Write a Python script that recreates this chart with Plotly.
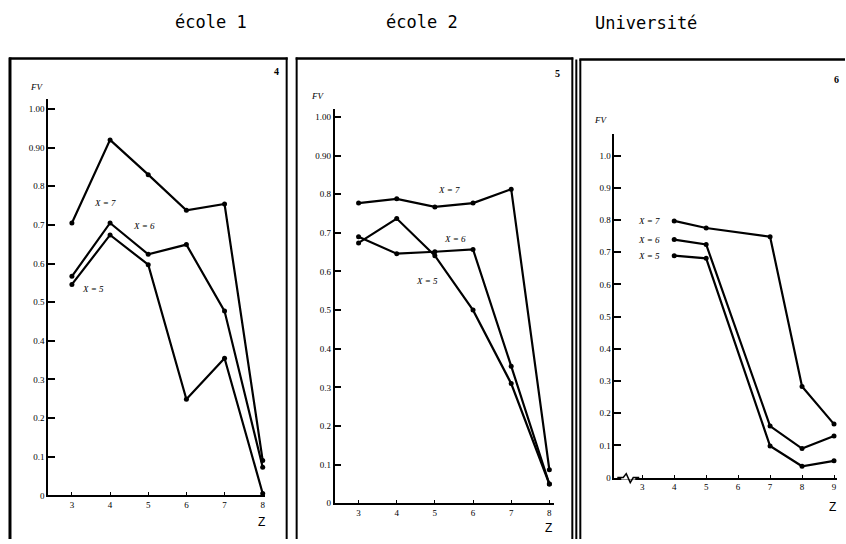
import plotly.graph_objects as go

W, H = 846, 544

# ---- data ----
z_p1 = [3, 4, 5, 6, 7, 8]
p1_x7 = [0.705, 0.92, 0.83, 0.738, 0.754, 0.09]
p1_x6 = [0.567, 0.705, 0.624, 0.649, 0.477, 0.073]
p1_x5 = [0.546, 0.674, 0.597, 0.249, 0.355, 0.005]

z_p2 = [3, 4, 5, 6, 7, 8]
p2_x7 = [0.777, 0.788, 0.767, 0.777, 0.813, 0.087]
p2_x6 = [0.69, 0.646, 0.651, 0.657, 0.355, 0.05]
p2_x5 = [0.674, 0.737, 0.641, 0.50, 0.31, 0.05]

z_p3 = [4, 5, 7, 8, 9]
p3_x7 = [0.797, 0.775, 0.748, 0.283, 0.166]
p3_x6 = [0.739, 0.724, 0.16, 0.09, 0.129]
p3_x5 = [0.689, 0.681, 0.098, 0.035, 0.052]

panel_titles = ["école 1", "école 2", "Université"]
panel_numbers = ["4", "5", "6"]
series_labels = ["X = 7", "X = 6", "X = 5"]
yticks_vals = [0, 0.1, 0.2, 0.3, 0.4, 0.5, 0.6, 0.7, 0.8, 0.9, 1.0]
yticks_text_a = ["0", "0.1", "0.2", "0.3", "0.4", "0.5", "0.6", "0.7", "0.8", "0.90", "1.00"]
yticks_text_b = ["0", "0.1", "0.2", "0.3", "0.4", "0.5", "0.6", "0.7", "0.8", "0.9", "1.0"]
xticks_p1 = [3, 4, 5, 6, 7, 8]
xticks_p3 = [3, 4, 5, 6, 7, 8, 9]


def px(x):
    return x / W


def py(y):
    return 1 - y / H


fig = go.Figure()

panels = [
    dict(z=z_p1, ys=[p1_x7, p1_x6, p1_x5], xd=(48, 265), yd=(500, 100),
         xr=(2.372, 8.052), yr=(0, 1.0256), ytt=yticks_text_a, xt=xticks_p1),
    dict(z=z_p2, ys=[p2_x7, p2_x6, p2_x5], xd=(335, 555), yd=(508, 110),
         xr=(2.372, 8.131), yr=(0, 1.0205), ytt=yticks_text_a, xt=xticks_p1),
    dict(z=z_p3, ys=[p3_x7, p3_x6, p3_x5], xd=(615, 838), yd=(482, 135),
         xr=(2.125, 9.094), yr=(0, 1.0677), ytt=yticks_text_b, xt=xticks_p3),
]

layout_axes = {}
for i, p in enumerate(panels):
    n = "" if i == 0 else str(i + 1)
    for ys, lab in zip(p["ys"], series_labels):
        fig.add_trace(go.Scatter(
            x=p["z"], y=ys, mode="lines+markers", name=lab,
            xaxis="x" + n, yaxis="y" + n, cliponaxis=False,
            line=dict(color="black", width=2.2),
            marker=dict(color="black", size=5),
            showlegend=False))
    layout_axes["xaxis" + n] = dict(
        domain=[px(p["xd"][0]), px(p["xd"][1])], range=list(p["xr"]),
        anchor="y" + n, showline=True, linecolor="black", linewidth=2,
        tickmode="array", tickvals=p["xt"], ticks="inside", ticklen=3,
        tickcolor="black", showgrid=False, zeroline=False,
        tickfont=dict(family="Liberation Serif", size=9, color="black"))
    layout_axes["yaxis" + n] = dict(
        domain=[py(p["yd"][0]), py(p["yd"][1])], range=list(p["yr"]),
        anchor="x" + n, showline=True, linecolor="black", linewidth=1.5,
        tickmode="array", tickvals=yticks_vals, ticktext=p["ytt"],
        ticks="inside", ticklen=7, tickwidth=2, tickcolor="black",
        showgrid=False, zeroline=False,
        tickfont=dict(family="Liberation Serif", size=9, color="black"))

fig.update_layout(**layout_axes)

shapes = []


def vline(x, y0, y1, w=2.5):
    shapes.append(dict(type="line", xref="paper", yref="paper",
                       x0=px(x), x1=px(x), y0=py(y0), y1=py(y1),
                       line=dict(color="black", width=w)))


def hline(x0, x1, y, w=2.5, color="black"):
    shapes.append(dict(type="line", xref="paper", yref="paper",
                       x0=px(x0), x1=px(x1), y0=py(y), y1=py(y),
                       line=dict(color=color, width=w)))


# panel frames
vline(10, 58, 544, 3); hline(9, 288, 59); vline(287, 58, 544, 2)
vline(297, 58, 544, 2); hline(296, 574, 59); vline(573, 58, 544, 2)
vline(577, 60, 544, 2); vline(581, 60, 544, 2); hline(580, 846, 60)

# axis break marks (zigzag) on panel 3 x axis
hline(622, 636, 482, w=4, color="white")
zz = [(618, 482), (624, 482), (627, 478), (631, 487), (634, 482), (640, 482)]
path = "M " + " L ".join(f"{px(a)},{py(b)}" for a, b in zz)
shapes.append(dict(type="path", xref="paper", yref="paper", path=path,
                   line=dict(color="black", width=1.5)))

fig.update_layout(shapes=shapes)

ann = []


def text(x, y, s, size=9, family="Liberation Serif", italic=False, bold=False,
         xanchor="center"):
    if italic:
        s = "<i>" + s + "</i>"
    if bold:
        s = "<b>" + s + "</b>"
    ann.append(dict(x=px(x), y=py(y), xref="paper", yref="paper", text=s,
                    showarrow=False, xanchor=xanchor, yanchor="middle",
                    font=dict(family=family, size=size, color="black")))


# titles
text(211, 22, panel_titles[0], size=17, family="DejaVu Sans Mono")
text(422, 22, panel_titles[1], size=17, family="DejaVu Sans Mono")
text(647, 23, panel_titles[2], size=17, family="DejaVu Sans Mono")
# panel numbers
text(277, 72, panel_numbers[0], size=10, bold=True)
text(558, 74, panel_numbers[1], size=10, bold=True)
text(837, 80, panel_numbers[2], size=10, bold=True)
# axis titles
text(37, 88, "FV", size=9, italic=True)
text(318, 97, "FV", size=9, italic=True)
text(601, 121, "FV", size=9, italic=True)
text(262, 527, "Z", size=12, family="Liberation Sans")
text(549, 533, "Z", size=12, family="Liberation Sans")
text(833, 512, "Z", size=12, family="Liberation Sans")
# series labels
text(105, 205, series_labels[0], italic=True)
text(144, 228, series_labels[1], italic=True)
text(93, 292, series_labels[2], italic=True)
text(450, 192, series_labels[0], italic=True)
text(456, 241, series_labels[1], italic=True)
text(428, 284, series_labels[2], italic=True)
text(650, 223, series_labels[0], italic=True)
text(650, 242, series_labels[1], italic=True)
text(650, 258, series_labels[2], italic=True)

fig.update_layout(annotations=ann, width=W, height=H,
                  margin=dict(l=0, r=0, t=0, b=0),
                  paper_bgcolor="white", plot_bgcolor="white")

fig.write_html("out.html", config={"displayModeBar": False},
               post_script="document.body.style.margin='0';document.body.style.overflow='hidden';")
